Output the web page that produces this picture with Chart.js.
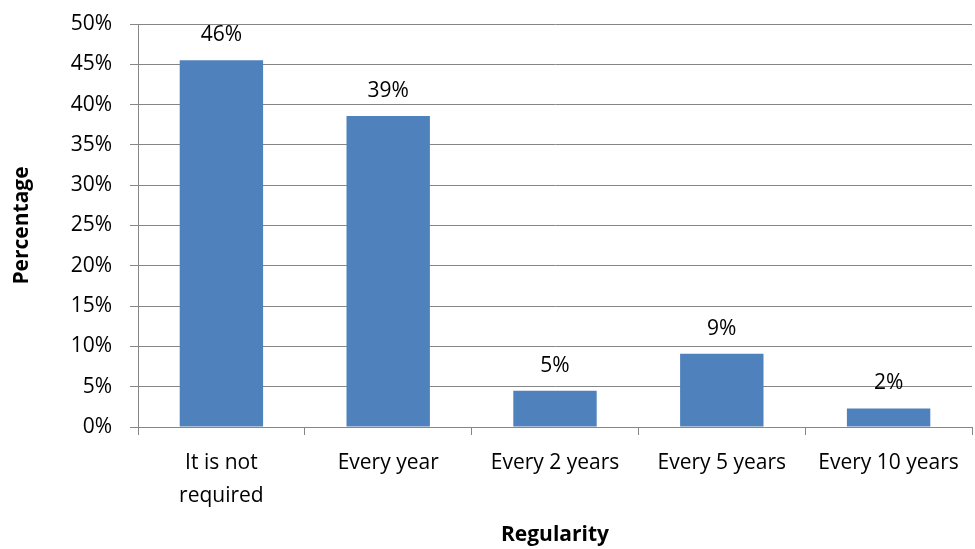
<!DOCTYPE html>
<html>
<head>
<meta charset="utf-8">
<script src="https://cdn.jsdelivr.net/npm/chart.js@4"></script>
<style>
  html, body { margin: 0; padding: 0; background: #fff; }
  #wrap { width: 975px; height: 549px; }
</style>
</head>
<body>
<div id="wrap"><canvas id="regularityChart" width="975" height="549"></canvas></div>
<script>
const categories = [['It is not', 'required'], 'Every year', 'Every 2 years', 'Every 5 years', 'Every 10 years'];
const shares = [45.5, 38.6, 4.5, 9.1, 2.3];
const yTicks = [0, 5, 10, 15, 20, 25, 30, 35, 40, 45, 50];

const FONT = "'Open Sans', 'Liberation Sans', sans-serif";
const GRID = '#868686';

// value labels above each bar, rounded to whole percents
const barLabels = {
    id: 'barLabels',
    afterDatasetsDraw(chart) {
        const ctx = chart.ctx;
        const meta = chart.getDatasetMeta(0);
        ctx.save();
        ctx.font = '21px ' + FONT;
        ctx.fillStyle = '#000';
        ctx.textAlign = 'center';
        ctx.textBaseline = 'middle';
        meta.data.forEach((bar, i) => {
            ctx.fillText(Math.round(shares[i]) + '%', bar.x, bar.y - 25);
        });
        ctx.restore();
    }
};

new Chart(document.getElementById('regularityChart'), {
    type: 'bar',
    data: {
        labels: categories,
        datasets: [{
            data: shares,
            backgroundColor: '#4F81BD',
            borderWidth: 0,
            barPercentage: 0.5,
            categoryPercentage: 1.0
        }]
    },
    options: {
        responsive: false,
        animation: false,
        layout: { padding: { left: 0, right: 3, top: 24, bottom: 0 } },
        plugins: { legend: { display: false }, tooltip: { enabled: false } },
        scales: {
            y: {
                min: 0,
                max: 50,
                afterBuildTicks: s => { s.ticks = yTicks.map(v => ({ value: v })); },
                afterFit: s => {
                    s.width = 138;
                    s.paddingTop = 0;
                    s.paddingBottom = 0;
                },
                ticks: {
                    color: '#000',
                    font: { family: FONT, size: 21 },
                    padding: 18,
                    callback: v => v + '%'
                },
                grid: { color: GRID, lineWidth: 1, tickLength: 8 },
                border: { color: GRID, width: 1 },
                title: {
                    display: true,
                    text: 'Percentage',
                    color: '#000',
                    font: { family: FONT, size: 21, weight: 'bold' },
                    padding: { top: 9, bottom: 0 }
                }
            },
            x: {
                afterFit: s => {
                    s.height = 549 - 427;
                    s.paddingLeft = 0;
                    s.paddingRight = 0;
                },
                ticks: {
                    color: '#000',
                    font: { family: FONT, size: 21, lineHeight: 1.57 },
                    padding: 12,
                    maxRotation: 0,
                    autoSkip: false
                },
                grid: { offset: true, drawOnChartArea: false, color: GRID, tickLength: 8 },
                border: { color: GRID, width: 1 },
                title: {
                    display: true,
                    text: 'Regularity',
                    color: '#000',
                    font: { family: FONT, size: 21, weight: 'bold' },
                    padding: { top: 0, bottom: 1 }
                }
            }
        }
    },
    plugins: [barLabels]
});
</script>
</body>
</html>
